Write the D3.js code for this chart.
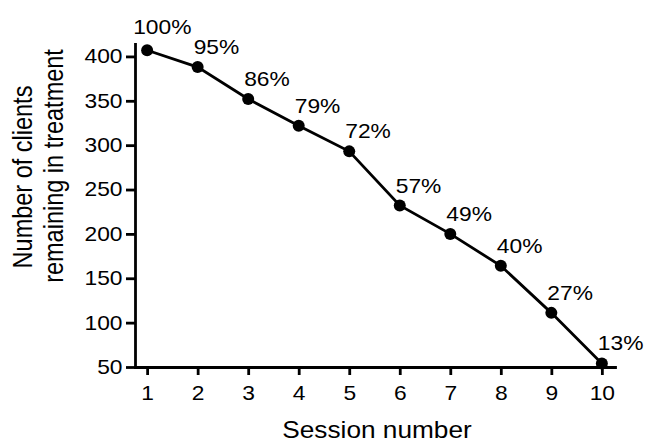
<!DOCTYPE html>
<html>
<head>
<meta charset="utf-8">
<script src="https://cdn.jsdelivr.net/npm/d3@7"></script>
<style>
  body { margin: 0; background: #fff; }
  text { font-family: "Liberation Sans", Arial, Helvetica, sans-serif; fill: #000; }
</style>
</head>
<body>
<div id="chart-container"></div>
<script>
// Data
const sessions = [1, 2, 3, 4, 5, 6, 7, 8, 9, 10];
const clients = [407, 388, 352, 322, 293, 232, 200, 164, 111, 54];
const percents = ["100%", "95%", "86%", "79%", "72%", "57%", "49%", "40%", "27%", "13%"];
const yTicks = [50, 100, 150, 200, 250, 300, 350, 400];

const width = 645;
const height = 444;
const sx = 1.14; // the picture's text is a little wider than tall

const svg = d3.select('#chart-container').append('svg')
  .attr('width', width)
  .attr('height', height);

// Scales
const x = d3.scaleLinear()
  .domain([0.76, 10.26])
  .range([135, 615]);

const y = d3.scaleLinear()
  .domain([50, 414])
  .range([367, 44]);

// Y axis
const yAxis = svg.append('g')
  .attr('transform', 'translate(135,0)')
  .call(d3.axisLeft(y).tickValues(yTicks).tickSize(9).tickSizeOuter(0));

// X axis
const xAxis = svg.append('g')
  .attr('transform', 'translate(0,367)')
  .call(d3.axisBottom(x).tickValues(sessions).tickSize(8).tickSizeOuter(0));

[xAxis, yAxis].forEach(function(a) {
  a.select('.domain').attr('stroke', '#000').attr('stroke-width', 2.8).attr('stroke-linecap', 'square');
  a.selectAll('.tick line').attr('stroke', '#000').attr('stroke-width', 2.8);
  a.selectAll('.tick text')
    .attr('font-size', 20)
    .attr('font-family', '"Liberation Sans", Arial, sans-serif')
    .attr('fill', '#000');
});

yAxis.selectAll('.tick text')
  .attr('x', -12.5 / sx)
  .attr('transform', `scale(${sx},1)`);

xAxis.selectAll('.tick text')
  .attr('y', 19)
  .attr('transform', `scale(${sx},1)`);

// Line
const line = d3.line()
  .x((d, i) => x(sessions[i]))
  .y(d => y(d));

svg.append('path')
  .datum(clients)
  .attr('fill', 'none')
  .attr('stroke', '#000')
  .attr('stroke-width', 2.8)
  .attr('d', line);

// Points
svg.selectAll('.dot')
  .data(clients)
  .enter().append('circle')
  .attr('class', 'dot')
  .attr('cx', (d, i) => x(sessions[i]))
  .attr('cy', d => y(d))
  .attr('r', 6)
  .attr('fill', '#000');

// Percent labels
svg.selectAll('.pct')
  .data(clients)
  .enter().append('text')
  .attr('class', 'pct')
  .attr('font-size', 20)
  .attr('transform', function(d, i) {
    const dx = i === 0 ? -14 : -4;
    const dy = i === 0 ? -16 : -13;
    return `translate(${x(sessions[i]) + dx},${y(d) + dy}) scale(${sx},1)`;
  })
  .text((d, i) => percents[i]);

// Axis titles
svg.append('text')
  .attr('font-size', 23)
  .attr('text-anchor', 'middle')
  .attr('transform', `translate(377,438) scale(${sx},1)`)
  .text('Session number');

svg.append('text')
  .attr('font-size', 23.5)
  .attr('text-anchor', 'middle')
  .attr('transform', `translate(32,177) rotate(-90) scale(1,${sx})`)
  .text('Number of clients');

svg.append('text')
  .attr('font-size', 23.5)
  .attr('text-anchor', 'middle')
  .attr('transform', `translate(63,166) rotate(-90) scale(1,${sx})`)
  .text('remaining in treatment');
</script>
</body>
</html>
